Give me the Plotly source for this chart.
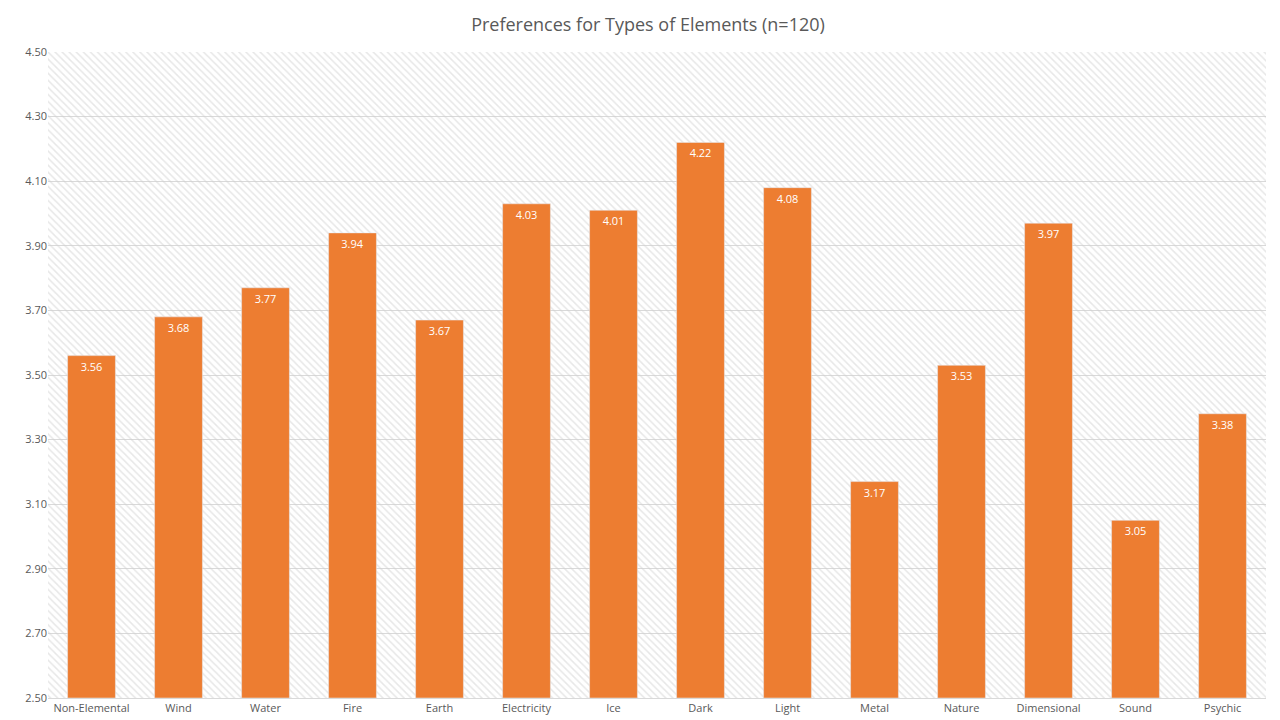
import plotly.graph_objects as go

categories = ["Non-Elemental","Wind","Water","Fire","Earth","Electricity","Ice","Dark","Light","Metal","Nature","Dimensional","Sound","Psychic"]
values = [3.56,3.68,3.77,3.94,3.67,4.03,4.01,4.22,4.08,3.17,3.53,3.97,3.05,3.38]
tick_vals = [2.5,2.7,2.9,3.1,3.3,3.5,3.7,3.9,4.1,4.3,4.5]

fig = go.Figure()
# hatched plot background (base axis, drawn beneath)
fig.add_trace(go.Bar(x=[0.5], y=[2.0], base=[2.5], width=[1], xaxis="x", yaxis="y",
                     marker=dict(color="rgba(0,0,0,0)", line_width=0,
                                 pattern=dict(shape="\\", fgcolor="#d0d0d0", bgcolor="rgba(0,0,0,0)", size=5, solidity=0.3)),
                     hoverinfo="skip", showlegend=False))
fig.add_trace(go.Bar(x=categories, y=[v-2.5 for v in values], base=2.5, xaxis="x2", yaxis="y",
                     marker_color="#ED7D31",
                     text=[f"{v:.2f}" for v in values], textposition="inside",
                     insidetextanchor="end", textfont=dict(color="white", size=11),
                     showlegend=False))
fig.update_layout(
    width=1280, height=720, paper_bgcolor="white", plot_bgcolor="white",
    margin=dict(l=40, r=22, t=44, b=30),
    title=dict(text="Preferences for Types of Elements (n=120)", x=0.5, y=0.985, xanchor="center",
               font=dict(family="Open Sans", size=18, color="#595959")),
    font=dict(family="Open Sans", color="#595959", size=11),
    bargap=0.45,
    xaxis=dict(range=[0,1], visible=False),
    xaxis2=dict(overlaying="x", showgrid=False, showline=True, linecolor="#d9d9d9", ticks="",
                side="bottom", tickfont=dict(size=11, color="#595959")),
    yaxis=dict(range=[2.5,4.5], tickvals=tick_vals, tickformat=".2f", showgrid=True,
               gridcolor="#d9d9d9", zeroline=False, tickfont=dict(size=11, color="#595959")),
)
fig.write_html("out.html")
